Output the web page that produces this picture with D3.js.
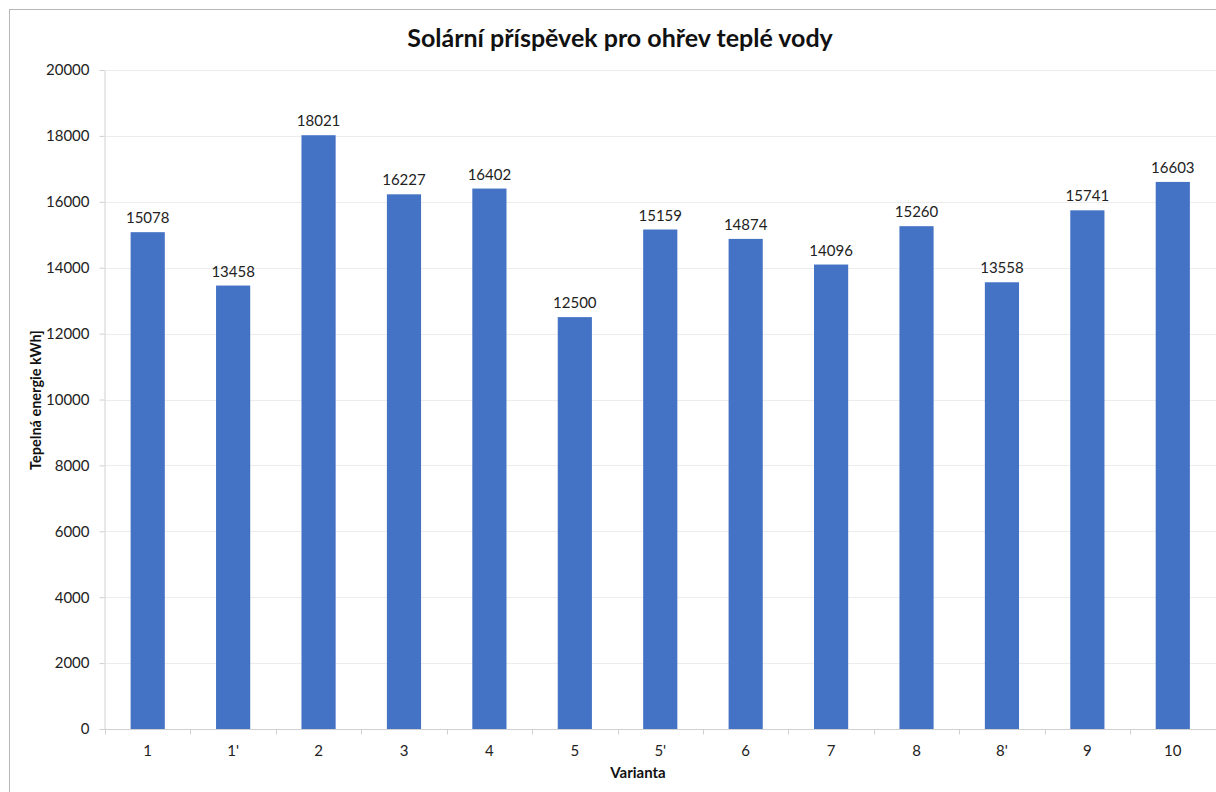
<!DOCTYPE html>
<html>
<head>
<meta charset="utf-8">
<script src="https://cdn.jsdelivr.net/npm/d3@7/dist/d3.min.js"></script>
<style>
  html, body { margin: 0; padding: 0; background: #fff; }
  svg { display: block; font-family: Lato, "Open Sans", sans-serif; }
</style>
</head>
<body>
<svg id="chart" width="1216" height="792"></svg>
<script>
// Solar contribution to hot water heating per variant
const categories = ["1", "1'", "2", "3", "4", "5", "5'", "6", "7", "8", "8'", "9", "10"];
const values = [15078, 13458, 18021, 16227, 16402, 12500, 15159, 14874, 14096, 15260, 13558, 15741, 16603];
const yTicks = [0, 2000, 4000, 6000, 8000, 10000, 12000, 14000, 16000, 18000, 20000];

const titleText = "Solární příspěvek pro ohřev teplé vody";
const yTitle = "Tepelná energie kWh]";
const xTitle = "Varianta";

const svg = d3.select("#chart");
const W = 1216, H = 792;
const margin = { left: 105, right: 0.5, top: 70, bottom: 63 };
const labelFont = "Lato, sans-serif";

// chart frame
svg.append("rect")
  .attr("x", 9.5).attr("y", 9.5)
  .attr("width", W).attr("height", H)
  .attr("fill", "#fff").attr("stroke", "#b7b7b7").attr("stroke-width", 1);

const x = d3.scaleBand()
  .domain(categories)
  .range([margin.left, W - margin.right])
  .paddingInner(0.6).paddingOuter(0.3);

const y = d3.scaleLinear()
  .domain([0, 20000])
  .range([H - margin.bottom, margin.top]);

// horizontal gridlines
svg.append("g")
  .selectAll("line")
  .data(yTicks.filter(d => d > 0))
  .join("line")
  .attr("x1", margin.left).attr("x2", W)
  .attr("y1", d => Math.round(y(d)) + 0.5).attr("y2", d => Math.round(y(d)) + 0.5)
  .attr("stroke", "#ececec").attr("stroke-width", 1);

// y axis
const yAxis = svg.append("g")
  .attr("transform", `translate(${margin.left - 0.5},0)`)
  .call(d3.axisLeft(y).tickValues(yTicks).tickFormat(d3.format("d"))
    .tickSize(5).tickSizeOuter(0).tickPadding(10));
yAxis.select(".domain").attr("stroke", "#d0d0d0");
yAxis.selectAll(".tick line").attr("stroke", "#d0d0d0");
yAxis.selectAll(".tick text")
  .attr("fill", "#222").style("font-size", "15px").style("font-family", labelFont);

// bars
svg.append("g")
  .selectAll("rect")
  .data(values)
  .join("rect")
  .attr("x", (d, i) => x(categories[i]))
  .attr("y", d => y(d))
  .attr("width", x.bandwidth())
  .attr("height", d => y(0) - y(d))
  .attr("fill", "#4472c4");

// value labels
svg.append("g")
  .selectAll("text")
  .data(values)
  .join("text")
  .attr("x", (d, i) => x(categories[i]) + x.bandwidth() / 2)
  .attr("y", d => y(d) - 9)
  .attr("text-anchor", "middle")
  .attr("fill", "#222")
  .style("font-size", "15px")
  .style("font-family", labelFont)
  .text(d => d);

// x axis
const xAxis = svg.append("g")
  .attr("transform", `translate(0,${Math.round(y(0)) + 0.5})`)
  .call(d3.axisBottom(x).tickSize(0).tickPadding(16));
xAxis.select(".domain").remove();
xAxis.append("line")
  .attr("x1", margin.left - 5).attr("x2", W)
  .attr("stroke", "#d0d0d0");
// category separators
xAxis.selectAll(".sep")
  .data(d3.range(categories.length + 1).map(i => x.range()[0] + x.step() * i))
  .join("line")
  .attr("class", "sep")
  .attr("x1", d => Math.round(d) + 0.5).attr("x2", d => Math.round(d) + 0.5)
  .attr("y1", 0).attr("y2", 5)
  .attr("stroke", "#d0d0d0");
xAxis.selectAll(".tick text")
  .attr("fill", "#222").style("font-size", "15px").style("font-family", labelFont);

// title
svg.append("text")
  .attr("x", 620).attr("y", 47)
  .attr("text-anchor", "middle")
  .attr("fill", "#111")
  .style("font-size", "25px").style("font-weight", "bold")
  .text(titleText);

// axis titles
svg.append("text")
  .attr("transform", `translate(41,400) rotate(-90)`)
  .attr("text-anchor", "middle")
  .attr("fill", "#111")
  .style("font-size", "14.5px").style("font-weight", "bold")
  .text(yTitle);

svg.append("text")
  .attr("x", 638).attr("y", 778)
  .attr("text-anchor", "middle")
  .attr("fill", "#111")
  .style("font-size", "15px").style("font-weight", "bold")
  .text(xTitle);
</script>
</body>
</html>
